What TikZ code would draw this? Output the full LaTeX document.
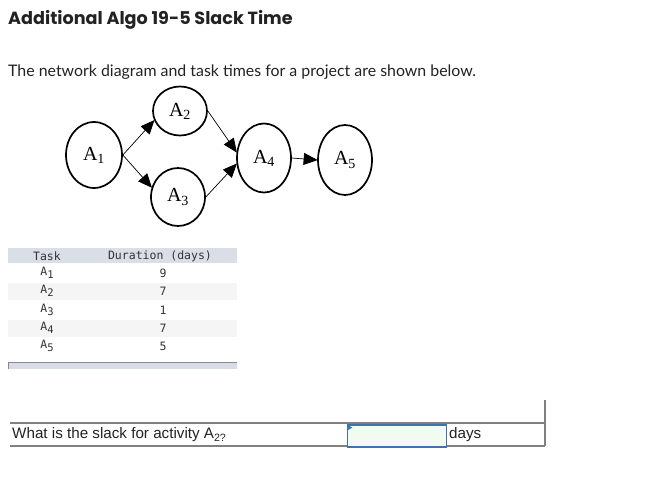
\documentclass[tikz,border=0pt]{standalone}
\usepackage{fontspec}
\setmainfont{Liberation Sans}
\newfontfamily\titlefont{Poppins}
\newfontfamily\subfont{Lato}
\newfontfamily\serfont{Liberation Serif}
\newfontfamily\monfont{DejaVu Sans Mono}
\usetikzlibrary{arrows.meta,shapes.geometric}
\definecolor{hdr}{HTML}{DADEE7}
\definecolor{altrow}{HTML}{F5F5F5}
\definecolor{barfill}{HTML}{D8DCE6}
\definecolor{bargray}{HTML}{8A8A8A}
\definecolor{qline}{HTML}{808080}
\definecolor{boxblue}{HTML}{3F72AF}
\definecolor{boxgreen}{HTML}{F1FBF1}
\definecolor{txt}{HTML}{222222}
\definecolor{mono}{HTML}{333333}
\tikzset{
  ell/.style={ellipse, draw=black, line width=1.7pt, inner sep=0pt, font=\serfont\fontsize{20}{22}\selectfont},
  conn/.style={draw=black, line width=0.7pt, -{Triangle[length=14pt,width=12pt]}, shorten >=-0.5pt},
  cell/.style={font=\monfont\fontsize{11.5}{13}\selectfont, text=mono, inner sep=0pt},
  qtext/.style={font=\fontsize{15.2}{17}\selectfont, text=txt, inner sep=0pt, anchor=west},
}
\newcommand{\msub}[1]{\raisebox{-2.5pt}{\fontsize{10.5}{12}\selectfont #1}}
\begin{document}
\begin{tikzpicture}[x=1pt,y=-1pt]
\useasboundingbox (0,0) rectangle (671,484);
% title
\node[anchor=west, inner sep=0pt, font=\titlefont\bfseries\fontsize{17.6}{21}\selectfont, text=txt] (title) at (8,20) {Additional Algo 19-5 Slack Time};
\node[anchor=west, inner sep=0pt, font=\subfont\fontsize{15.9}{19}\selectfont, text=txt] (sub) at (8,72) {The network diagram and task times for a project are shown below.};
% network
\node[ell, minimum width=56, minimum height=66] (A1) at (94,155) {A\textsubscript{1}};
\node[ell, minimum width=54, minimum height=49] (A2) at (180,111) {A\textsubscript{2}};
\node[ell, minimum width=54, minimum height=58] (A3) at (178,197) {A\textsubscript{3}};
\node[ell, minimum width=54, minimum height=69] (A4) at (264,158) {A\textsubscript{4}};
\node[ell, minimum width=54, minimum height=70] (A5) at (345,160) {A\textsubscript{5}};
\draw[conn] (A1.east) -- (A2.200);
\draw[conn] (A1.east) -- (A3.160);
\draw[conn] (A2.east) -- (A4.168);
\draw[conn] (A3.east) -- (A4.192);
\draw[conn] (A4.east) -- (A5.west);
% table
\fill[hdr] (8,248) rectangle (237,263);
\fill[altrow] (8,283) rectangle (237,300);
\fill[altrow] (8,320) rectangle (237,337);
\node[cell] (hT) at (47,256) {Task};
\node[cell] (hD) at (160,256) {Duration (days)};
\node[cell] (t1) at (47,273) {A\msub{1}};
\node[cell] (d1) at (163,273) {9};
\node[cell] (t2) at (47,291) {A\msub{2}};
\node[cell] (d2) at (163,291) {7};
\node[cell] (t3) at (47,310) {A\msub{3}};
\node[cell] (d3) at (163,310) {1};
\node[cell] (t4) at (47,328) {A\msub{4}};
\node[cell] (d4) at (163,328) {7};
\node[cell] (t5) at (47,346) {A\msub{5}};
\node[cell] (d5) at (163,346) {5};
\fill[barfill] (8,362) rectangle (237,369);
\draw[bargray, line width=1.2pt] (8.6,369) -- (8.6,362.6) -- (237,362.6);
% question
\draw[qline, line width=1.2pt] (10,423) -- (545,423);
\draw[qline, line width=1.2pt] (10,446) -- (545,446);
\draw[qline, line width=1.2pt] (545,400) -- (545,446);
\node[qtext] (q) at (12,435) {What is the slack for activity A\textsubscript{2?}};
\node[draw=boxblue, fill=boxgreen, line width=1.5pt, minimum width=99, minimum height=22, inner sep=0pt, anchor=north west] (inp) at (346.5,424) {};
\fill[boxblue] (inp.north west) ++(0.8,0.8) -- ++(5,2.8) -- ++(-5,2.8) -- cycle;
\node[qtext] (days) at (449,435) {days};
\end{tikzpicture}
\end{document}
